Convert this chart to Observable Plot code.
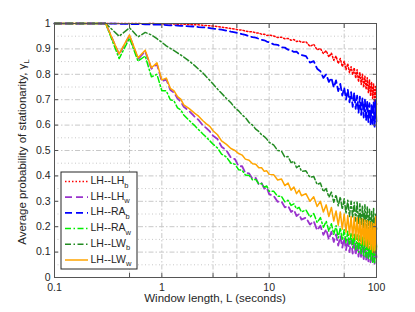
<!DOCTYPE html>
<html><head><meta charset="utf-8">
<script src="https://cdn.jsdelivr.net/npm/d3@7"></script>
<script src="https://cdn.jsdelivr.net/npm/@observablehq/plot@0.6"></script>
<style>
body{margin:0;background:#fff;}
svg{font-family:"Liberation Sans",Arial,Helvetica,sans-serif;}
</style>
</head><body><div id="chart"></div>
<script>
// Window length L (seconds)
const windowLength = [0.1,0.2,0.3,0.4,0.5,0.6,0.7,0.8,0.9,1.0,
1.1,1.2,1.3,1.4,1.5,1.6,
1.8,2.0,2.2,2.4,2.6,2.8,3.0,
3.3,3.6,4.0,4.4,4.8,
5.2,5.6,6,6.5,7,7.5,8,8.5,9,9.5,10,
11,12,13,14,15,16,17,18,19,20,
22,24,26,28,30,32,34,36,38,40,42,44,46,48,50,52,54,56,58,60,62,64,66,68,70,72,74,76,78,80,82,84,86,88,90,92,94,96,98,100];

const lhLHb = [1,1,1,1,1,1,0.999,1,0.999,0.998,
0.999,0.998,0.998,0.997,0.998,0.997,
0.996,0.995,0.995,0.993,0.992,0.991,0.99,
0.988,0.986,0.983,0.98,0.978,
0.975,0.974,0.97,0.968,0.967,0.963,0.962,0.958,0.958,0.953,0.954,
0.951,0.945,0.946,0.940,0.941,0.934,0.937,0.929,0.932,0.926,
0.928,0.910,0.918,0.896,0.902,0.882,0.893,0.868,0.884,0.855,0.872,0.842,0.862,0.830,0.852,0.818,0.842,0.806,0.830,0.798,0.826,0.784,0.818,0.770,0.808,0.760,0.800,0.748,0.792,0.740,0.786,0.728,0.778,0.715,0.770,0.705,0.762,0.690,0.752,0.680];

const lhLHw = [1,1,1,0.878,0.952,0.86,0.89,0.822,0.84,0.772,
0.78,0.738,0.728,0.705,0.692,0.672,
0.655,0.635,0.62,0.6,0.588,0.575,0.558,
0.545,0.515,0.500,0.472,0.466,
0.438,0.438,0.412,0.410,0.388,0.392,0.366,0.372,0.350,0.355,0.328,
0.322,0.298,0.300,0.276,0.282,0.258,0.266,0.242,0.250,0.228,
0.236,0.208,0.222,0.186,0.204,0.168,0.190,0.150,0.180,0.140,0.170,0.126,0.162,0.118,0.156,0.108,0.150,0.100,0.146,0.094,0.142,0.088,0.136,0.082,0.134,0.076,0.130,0.072,0.126,0.068,0.124,0.064,0.118,0.060,0.116,0.058,0.112,0.054,0.110,0.080];

const lhRAb = [1,1,1,0.999,0.998,0.998,0.997,0.996,0.996,0.995,
0.994,0.993,0.993,0.992,0.991,0.99,
0.989,0.988,0.986,0.985,0.984,0.982,0.98,
0.978,0.976,0.972,0.968,0.965,
0.962,0.958,0.955,0.95,0.946,0.944,0.94,0.936,0.934,0.929,0.926,
0.918,0.916,0.906,0.905,0.897,0.895,0.888,0.889,0.879,0.876,
0.872,0.846,0.852,0.822,0.812,0.786,0.800,0.770,0.786,0.748,0.776,0.734,0.762,0.716,0.748,0.700,0.740,0.690,0.730,0.672,0.728,0.664,0.716,0.648,0.712,0.640,0.706,0.630,0.700,0.618,0.694,0.612,0.686,0.604,0.680,0.598,0.690,0.594,0.700,0.600];

const lhRAw = [1,1,1,0.862,0.942,0.852,0.872,0.79,0.80,0.735,
0.735,0.70,0.695,0.668,0.66,0.64,
0.618,0.6,0.582,0.566,0.552,0.538,0.525,
0.510,0.486,0.474,0.450,0.446,
0.424,0.422,0.404,0.402,0.384,0.386,0.368,0.370,0.356,0.360,0.340,
0.340,0.320,0.320,0.298,0.304,0.284,0.290,0.270,0.276,0.258,
0.266,0.238,0.252,0.216,0.236,0.198,0.222,0.182,0.212,0.170,0.204,0.156,0.196,0.146,0.188,0.136,0.182,0.128,0.176,0.118,0.174,0.110,0.168,0.100,0.164,0.094,0.160,0.086,0.158,0.080,0.154,0.074,0.150,0.070,0.150,0.060,0.156,0.058,0.170,0.120];

const lhLWb = [1,1,1,0.95,0.983,0.947,0.965,0.955,0.94,0.926,
0.912,0.902,0.893,0.884,0.876,0.868,
0.852,0.836,0.82,0.806,0.79,0.776,0.762,
0.742,0.725,0.705,0.688,0.668,
0.656,0.640,0.630,0.610,0.600,0.584,0.575,0.562,0.555,0.545,0.532,
0.522,0.500,0.498,0.474,0.476,0.452,0.458,0.432,0.440,0.418,
0.420,0.394,0.398,0.366,0.372,0.338,0.350,0.316,0.336,0.296,0.326,0.282,0.318,0.268,0.310,0.252,0.304,0.240,0.300,0.236,0.296,0.222,0.300,0.212,0.290,0.206,0.284,0.196,0.286,0.190,0.280,0.176,0.270,0.168,0.262,0.160,0.272,0.150,0.252,0.190];

const lhLWw = [1,1,1,0.88,0.955,0.865,0.895,0.826,0.845,0.778,
0.785,0.745,0.735,0.712,0.702,0.68,
0.665,0.648,0.635,0.618,0.605,0.595,0.578,
0.562,0.538,0.524,0.508,0.500,
0.488,0.482,0.466,0.462,0.448,0.446,0.432,0.432,0.418,0.420,0.406,
0.405,0.384,0.388,0.362,0.372,0.344,0.356,0.330,0.344,0.322,
0.330,0.300,0.318,0.280,0.300,0.258,0.286,0.240,0.276,0.222,0.262,0.206,0.258,0.190,0.250,0.178,0.244,0.168,0.240,0.156,0.238,0.150,0.236,0.140,0.232,0.132,0.230,0.128,0.226,0.122,0.224,0.116,0.220,0.110,0.218,0.100,0.212,0.098,0.240,0.110];

const seriesMain = ["LH--LH","LH--LH","LH--RA","LH--RA","LH--LW","LH--LW"];
const seriesSub = ["b","w","b","w","b","w"];
const xTicks = [0.1,0.5,1,3,5,10,50,100];
const yTicks = [0,0.1,0.2,0.3,0.4,0.5,0.6,0.7,0.8,0.9,1];
const yMinor = [0.05,0.15,0.25,0.35,0.45,0.55,0.65,0.75,0.85,0.95];

const seriesValues = [lhLHb, lhLHw, lhRAb, lhRAw, lhLWb, lhLWw];
const styles = [
  {stroke:"#ff0000", dash:"1.5,2", width:1.5},
  {stroke:"#9933cc", dash:"7,4", width:1.8},
  {stroke:"#0000ff", dash:"7,4", width:1.8},
  {stroke:"#00ee00", dash:"6,2.5,1.5,2.5", width:1.5},
  {stroke:"#228b22", dash:"6,2.5,1.5,2.5", width:1.5},
  {stroke:"#ffa500", dash:null, width:1.5}
];

const lineMarks = seriesValues.map((vals, k) =>
  Plot.line(windowLength.map((L, i) => ({L, v: vals[i]})), {
    x: "L", y: "v", stroke: styles[k].stroke, strokeWidth: styles[k].width,
    strokeDasharray: styles[k].dash, strokeLinejoin: "round"
  })
);

const fmt = d => d === 0 ? "0" : d === 1 ? "1" : String(d);

const chart = Plot.plot({
  width: 415, height: 312,
  marginLeft: 54, marginRight: 39, marginTop: 23, marginBottom: 35,
  x: {type: "log", domain: [0.1, 100]},
  y: {domain: [0, 1]},
  style: {fontFamily: '"Liberation Sans",Arial,sans-serif', fontSize: "10.5px", color: "#262626", background: "#fff"},
  marks: [
    Plot.ruleY(yMinor, {stroke: "#c8c8c8", strokeDasharray: "1,2.5"}),
    Plot.ruleY(yTicks.slice(1, -1), {stroke: "#c8c8c8", strokeDasharray: "5,2,1.5,2"}),
    Plot.ruleX(xTicks.slice(1, -1), {stroke: "#c8c8c8", strokeDasharray: "5,2,1.5,2"}),
    ...lineMarks,
    Plot.frame({stroke: "#555"}),
    Plot.axisX(xTicks, {anchor: "bottom", tickSize: -4, tickPadding: 10, tickFormat: fmt, label: null, stroke: "#555"}),
    Plot.axisX(xTicks, {anchor: "top", tickSize: -4, tickFormat: () => "", label: null, stroke: "#555"}),
    Plot.axisY(yTicks, {anchor: "left", tickSize: -4, tickPadding: 8, tickFormat: fmt, label: null, stroke: "#555"}),
    Plot.axisY(yTicks, {anchor: "right", tickSize: -4, tickFormat: () => "", label: null, stroke: "#555"})
  ]
});

document.getElementById("chart").appendChild(chart);

const svg = d3.select(chart);
// axis labels
svg.append("text")
  .attr("x", 215).attr("y", 301.5)
  .attr("text-anchor", "middle")
  .attr("font-size", 11.5).attr("fill", "#262626")
  .text("Window length, L (seconds)");
const yl = svg.append("text")
  .attr("transform", "translate(26,152) rotate(-90)")
  .attr("text-anchor", "middle")
  .attr("font-size", 11.5).attr("fill", "#262626");
yl.append("tspan").text("Average probability of stationarity, γ");
yl.append("tspan").attr("font-size", 8).attr("dy", 3).text("L");

// legend
const lg = svg.append("g");
lg.append("rect").attr("x", 61).attr("y", 172).attr("width", 76).attr("height", 97)
  .attr("fill", "#fff").attr("stroke", "#262626").attr("stroke-width", 1);
seriesMain.forEach((name, k) => {
  const yy = 181.5 + k * 15.7;
  lg.append("line").attr("x1", 65).attr("x2", 88).attr("y1", yy).attr("y2", yy)
    .attr("stroke", styles[k].stroke).attr("stroke-width", styles[k].width)
    .attr("stroke-dasharray", styles[k].dash);
  const t = lg.append("text").attr("x", 90.5).attr("y", yy + 2.5)
    .attr("text-anchor", "start")
    .attr("font-size", 10.5).attr("fill", "#262626");
  t.append("tspan").text(name);
  t.append("tspan").attr("font-size", 7.5).attr("dy", 3.5).text(seriesSub[k]);
});
</script>
</body></html>
